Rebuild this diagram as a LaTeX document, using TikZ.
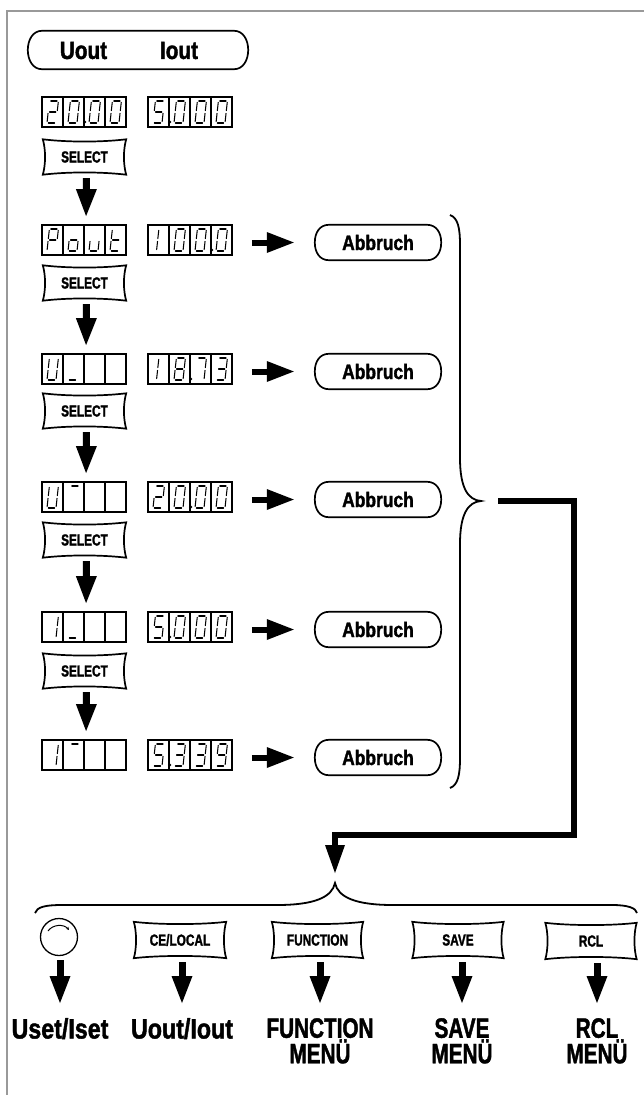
\documentclass[tikz,border=0pt]{standalone}
\usepackage{fontspec}
\setmainfont{Liberation Sans}
\newfontfamily\cfa[FakeStretch=0.74,FakeBold=1.5]{Liberation Sans Bold}
\newfontfamily\cfm[FakeStretch=0.83,FakeBold=1.5]{Liberation Sans Bold}
\usetikzlibrary{arrows.meta,calc}

\tikzset{
 segl/.style={line width=1.05pt,line cap=round},
 boxl/.style={line width=1.8pt},
 dispbox/.style={draw,line width=1.8pt,minimum width=84pt,minimum height=30pt,inner sep=0pt},
 btn/.style={minimum width=83pt,minimum height=35pt,inner sep=0pt,font=\cfa\fontsize{16}{16}\selectfont},
 bbtn/.style={btn,minimum width=91pt,minimum height=36pt},
 abb/.style={minimum width=124pt,minimum height=35pt,inner sep=0pt,font=\cfm\fontsize{21}{21}\selectfont},
 toptext/.style={inner sep=0pt,font=\cfm\fontsize{25}{25}\selectfont},
 lbl/.style={anchor=north,inner sep=0pt,align=center,font=\cfa\fontsize{28}{25.5}\selectfont},
 lblm/.style={lbl,font=\cfm\fontsize{28}{25.5}\selectfont},
 btnline/.style={line width=1.7pt,line join=miter},
 pilline/.style={line width=1.7pt},
 bracel/.style={line width=1.8pt},
 frameline/.style={line width=1.7pt,color=black!40},
 darr/.style={line width=7pt,-{Triangle[length=27pt 0 0,width=21pt 0 0,line width=0pt 0 0]}},
 rarr/.style={line width=6pt,-{Triangle[length=27pt 0 0,width=21pt 0 0,line width=0pt 0 0]}},
 bigarr/.style={line width=6.5pt,line join=miter,-{Triangle[length=28pt 0 0,width=20pt 0 0,line width=0pt 0 0]}},
}

\newcommand\sg[1]{%
\if a#1\draw[segl] (1.4,0)--(7.6,0);\fi
\if b#1\draw[segl] (9,1.4)--(9,9.6);\fi
\if c#1\draw[segl] (9,12.4)--(9,20.6);\fi
\if d#1\draw[segl] (1.4,22)--(7.6,22);\fi
\if e#1\draw[segl] (0,12.4)--(0,20.6);\fi
\if f#1\draw[segl] (0,1.4)--(0,9.6);\fi
\if g#1\draw[segl] (1.4,11)--(7.6,11);\fi
\if m#1\draw[segl] (3.5,1.4)--(3.5,9.6);\fi
\if n#1\draw[segl] (3.5,12.4)--(3.5,20.6);\fi}

\newcommand\dg[3]{\begin{scope}[shift={(#1+7.4,#2+4)},xslant=0.11]\edef\seglist{#3}\foreach \s in \seglist {\sg\s}\end{scope}}

\def\Dzero{a,b,c,d,e,f}
\def\Done{m,n}
\def\Dtwo{a,b,g,e,d}
\def\Dthree{a,b,g,c,d}
\def\Dfive{a,f,g,c,d}
\def\Dseven{a,b,c}
\def\Deight{a,b,c,d,e,f,g}
\def\Dnine{a,b,c,d,f,g}

\newcommand\disp[8]{%
 \node[dispbox] (#1) at (#2+42,#3) {};
 \foreach \i in {1,2,3} {\draw[boxl] (#2+21*\i,#3-15) -- (#2+21*\i,#3+15);}
 \dg{#2}{#3-15}{#4}\dg{#2+21}{#3-15}{#5}\dg{#2+42}{#3-15}{#6}\dg{#2+63}{#3-15}{#7}
 \ifnum#8>0 \fill (#2+21*#8+0.6,#3+10) circle[radius=1.8pt];\fi}

\newcommand\pillow[1]{\draw[btnline] (#1.north west) .. controls +(25,3) and +(-25,3) .. (#1.north east) .. controls +(-3,10) and +(-3,-10) .. (#1.south east) .. controls +(-25,-3) and +(25,-3) .. (#1.south west) .. controls +(3,-10) and +(3,10) .. (#1.north west) -- cycle;}

\newcommand\pill[1]{\draw[pilline] ($(#1.north west)+(13,0)$) -- ($(#1.north east)+(-13,0)$) .. controls +(9,0) and +(0,-10) .. ($(#1.east)+(1,0)$) .. controls +(0,10) and +(9,0) .. ($(#1.south east)+(-13,0)$) -- ($(#1.south west)+(13,0)$) .. controls +(-9,0) and +(0,10) .. ($(#1.west)+(-1,0)$) .. controls +(0,-10) and +(-9,0) .. ($(#1.north west)+(13,0)$) -- cycle;}

\begin{document}
\begin{tikzpicture}[x=1pt,y=-1pt]
\useasboundingbox (0,0) rectangle (644,1095);
\draw[frameline] (7,1095) -- (7,11) -- (644,11);

% top pill
\node[minimum width=218pt,minimum height=38pt,inner sep=0pt] (top) at (138,50) {};
\pill{top}
\node[toptext] (uout) at (83.5,50.5) {Uout};
\node[toptext] (iout) at (179,50.5) {Iout};

% displays
\disp{d0l}{42}{112}{\Dtwo}{\Dzero}{\Dzero}{\Dzero}{2}
\disp{d0r}{148}{112}{\Dfive}{\Dzero}{\Dzero}{\Dzero}{1}
\disp{d1l}{42}{240}{a,b,e,f,g}{c,d,e,g}{c,d,e}{d,e,f,g}{0}
\disp{d1r}{148}{240}{\Done}{\Dzero}{\Dzero}{\Dzero}{3}
\disp{d2l}{42}{369}{b,c,d,e,f}{d}{x}{x}{0}
\disp{d2r}{148}{369}{\Done}{\Deight}{\Dseven}{\Dthree}{2}
\disp{d3l}{42}{497}{b,c,d,e,f}{a}{x}{x}{0}
\disp{d3r}{148}{497}{\Dtwo}{\Dzero}{\Dzero}{\Dzero}{2}
\disp{d4l}{42}{627}{b,c}{d}{x}{x}{0}
\disp{d4r}{148}{627}{\Dfive}{\Dzero}{\Dzero}{\Dzero}{1}
\disp{d5l}{42}{755}{b,c}{a}{x}{x}{0}
\disp{d5r}{148}{755}{\Dfive}{\Dthree}{\Dthree}{\Dnine}{1}

% select buttons
\node[btn] (s0) at (84.5,157) {SELECT}; \pillow{s0}
\node[btn] (s1) at (84.5,283) {SELECT}; \pillow{s1}
\node[btn] (s2) at (84.5,411) {SELECT}; \pillow{s2}
\node[btn] (s3) at (84.5,540) {SELECT}; \pillow{s3}
\node[btn] (s4) at (84.5,671) {SELECT}; \pillow{s4}

\draw[darr,shorten <=3.5pt,shorten >=8pt] ([xshift=2pt]s0.south) -- ([xshift=2pt]d1l.north);
\draw[darr,shorten <=3.5pt,shorten >=8pt] ([xshift=2pt]s1.south) -- ([xshift=2pt]d2l.north);
\draw[darr,shorten <=3.5pt,shorten >=8pt] ([xshift=2pt]s2.south) -- ([xshift=2pt]d3l.north);
\draw[darr,shorten <=3.5pt,shorten >=8pt] ([xshift=2pt]s3.south) -- ([xshift=2pt]d4l.north);
\draw[darr,shorten <=3.5pt,shorten >=8pt] ([xshift=2pt]s4.south) -- ([xshift=2pt]d5l.north);

% Abbruch
\node[abb] (ab1) at (378,242.5) {Abbruch}; \pill{ab1}
\node[abb] (ab2) at (378,371.5) {Abbruch}; \pill{ab2}
\node[abb] (ab3) at (378,499.5) {Abbruch}; \pill{ab3}
\node[abb] (ab4) at (378,629.5) {Abbruch}; \pill{ab4}
\node[abb] (ab5) at (378,757.5) {Abbruch}; \pill{ab5}

\draw[rarr,shorten <=19pt,shorten >=22pt] (d1r.east |- ab1.west) -- (ab1.west);
\draw[rarr,shorten <=19pt,shorten >=22pt] (d2r.east |- ab2.west) -- (ab2.west);
\draw[rarr,shorten <=19pt,shorten >=22pt] (d3r.east |- ab3.west) -- (ab3.west);
\draw[rarr,shorten <=19pt,shorten >=22pt] (d4r.east |- ab4.west) -- (ab4.west);
\draw[rarr,shorten <=19pt,shorten >=22pt] (d5r.east |- ab5.west) -- (ab5.west);

% right brace
\coordinate (rtip) at (481,501);
\draw[bracel] (450,215) .. controls (458,218) and (460,228) .. (460,245) -- (460,458) .. controls (460,488) and (468,500) .. (rtip) .. controls (468,502) and (460,514) .. (460,544) -- (460,758) .. controls (460,775) and (458,785) .. (450,788);

% bottom brace
\coordinate (btip) at (335,883);
\draw[bracel] (35,913) .. controls (37,907) and (45,905) .. (62,905) -- (277,905) .. controls (315,905) and (332,897) .. (btip) .. controls (338,897) and (355,905) .. (393,905) -- (612,905) .. controls (628,905) and (636,908) .. (637,913);

% connector
\draw[bigarr,shorten <=17pt,shorten >=10pt] (rtip) -| (574,835) -| (btip);

% bottom buttons
\node[draw,circle,minimum size=37pt,inner sep=0pt,line width=1.3pt] (knob) at (59,937) {};
\draw[line width=1pt,-{Stealth[length=3pt 0 0,width=3pt 0 0]}] ($(knob.center)+(-11,-6)$) .. controls ($(knob.center)+(-6,-13)$) and ($(knob.center)+(5,-13)$) .. ($(knob.center)+(10,-7)$);
\node[bbtn,minimum width=92pt] (ce) at (180,940) {CE/LOCAL}; \pillow{ce}
\node[bbtn] (fn) at (317.5,940) {FUNCTION}; \pillow{fn}
\node[bbtn] (sv) at (458,940) {SAVE}; \pillow{sv}
\node[bbtn] (rc) at (591,941) {RCL}; \pillow{rc}

\node[lblm] (l1) at (60,1018) {Uset/Iset};
\node[lblm] (l2) at (182,1018) {Uout/Iout};
\node[lbl] (l3) at (320,1018) {FUNCTION\\MENÜ};
\node[lbl] (l4) at (462,1018) {SAVE\\MENÜ};
\node[lbl] (l5) at (597,1018) {RCL\\MENÜ};

\draw[darr,shorten <=4pt,shorten >=15pt] (l1.north |- knob.south) -- (l1.north);
\draw[darr,shorten <=4pt,shorten >=15pt] (l2.north |- ce.south) -- (l2.north);
\draw[darr,shorten <=4pt,shorten >=15pt] (l3.north |- fn.south) -- (l3.north);
\draw[darr,shorten <=4pt,shorten >=15pt] (l4.north |- sv.south) -- (l4.north);
\draw[darr,shorten <=4pt,shorten >=15pt] (l5.north |- rc.south) -- (l5.north);
\end{tikzpicture}
\end{document}
